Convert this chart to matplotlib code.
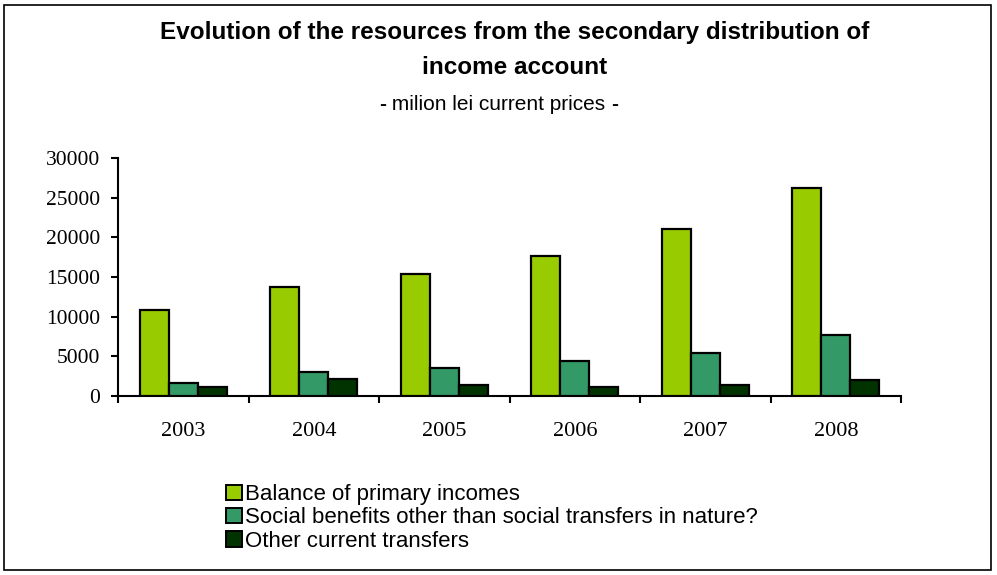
"""Resources from the secondary distribution of income account, 2003-2008"""

import numpy as np
import matplotlib
matplotlib.use("Agg")
import matplotlib.pyplot as plt
from matplotlib.patches import Rectangle, Patch

years = ["2003", "2004", "2005", "2006", "2007", "2008"]
primary_incomes = [10830, 13740, 15420, 17650, 21030, 26210]
social_benefits = [1690, 2990, 3540, 4420, 5480, 7670]
other_transfers = [1100, 2110, 1430, 1180, 1390, 2070]

series_names = [
    "Balance of primary incomes",
    "Social benefits other than social transfers in nature?",
    "Other current transfers",
]
colors = ["#99CC00", "#339966", "#003300"]

fig = plt.figure(figsize=(9.97, 5.75), dpi=100)
fig.patches.append(Rectangle((0.004, 0.008), 0.99, 0.984, transform=fig.transFigure,
                             fill=False, edgecolor="black", linewidth=1.2))

ax = fig.add_axes([0.1184, 0.3113, 0.7854, 0.4139])

x = np.arange(len(years))
width = 0.222
for i, (vals, col) in enumerate(zip([primary_incomes, social_benefits, other_transfers], colors)):
    ax.bar(x + (i - 1) * width, vals, width, color=col, edgecolor="black",
           linewidth=1.6, zorder=3)

ax.set_xlim(-0.5, len(years) - 0.5)
ax.set_ylim(0, 30000)
ax.set_yticks(range(0, 30001, 5000))

# group boundaries carry the tick marks, group centres carry the year labels
ax.set_xticks(np.arange(len(years) + 1) - 0.5)
ax.set_xticklabels([])
ax.set_xticks(x, minor=True)
ax.set_xticklabels(years, minor=True)
ax.tick_params(axis="x", which="major", length=5, width=1.5, direction="out")
ax.tick_params(axis="x", which="minor", length=0, pad=19)
ax.tick_params(axis="y", length=5, width=1.5, direction="out", pad=8)

for lbl in ax.get_xticklabels(minor=True):
    lbl.set_fontfamily("Liberation Serif")
    lbl.set_fontsize(16)
for lbl in ax.get_yticklabels():
    lbl.set_fontfamily("Liberation Serif")
    lbl.set_fontsize(15.5)

for side in ["top", "right"]:
    ax.spines[side].set_visible(False)
for side in ["left", "bottom"]:
    ax.spines[side].set_linewidth(1.5)

fig.text(0.516, 0.944, "Evolution of the resources from the secondary distribution of",
         ha="center", va="center", fontsize=17.5, fontweight="bold", family="Liberation Sans")
fig.text(0.516, 0.883, "income account",
         ha="center", va="center", fontsize=17.5, fontweight="bold", family="Liberation Sans")
sub = fig.text(0.5, 0.818, " milion lei current prices ",
               ha="center", va="center", fontsize=15, family="Liberation Sans")
ax.annotate("-", xy=(0, 0.5), xycoords=sub, ha="right", va="center",
            fontsize=15, fontweight="bold", family="Liberation Sans")
ax.annotate("-", xy=(1, 0.5), xycoords=sub, ha="left", va="center",
            fontsize=15, fontweight="bold", family="Liberation Sans")

handles = [Patch(facecolor=c, edgecolor="black", linewidth=1.4) for c in colors]
fig.legend(handles, series_names, loc="upper left", bbox_to_anchor=(0.227, 0.158),
           bbox_transform=fig.transFigure, frameon=False,
           prop={"family": "Liberation Sans", "size": 16},
           handlelength=0.7, handleheight=0.7, handletextpad=0.12,
           labelspacing=0.1, borderpad=0, borderaxespad=0)

fig.savefig("out.png", dpi=100)
